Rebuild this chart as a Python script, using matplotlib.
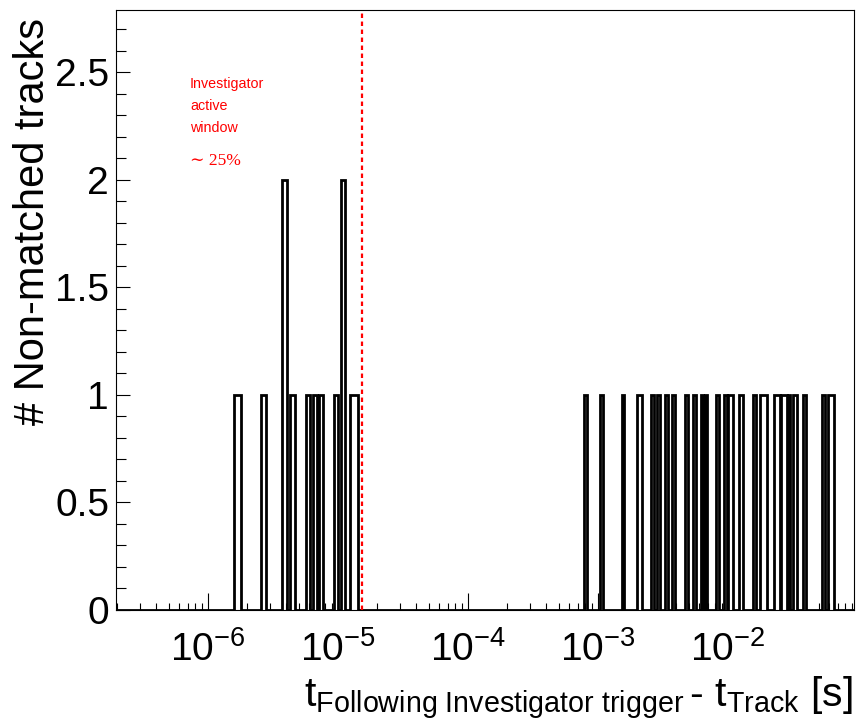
import numpy as np
import matplotlib
matplotlib.use("Agg")
import matplotlib.pyplot as plt
from matplotlib.ticker import LogLocator, MultipleLocator, NullFormatter, LogFormatterSciNotation

plt.rcParams["font.family"] = ["Liberation Sans", "DejaVu Sans"]
plt.rcParams["mathtext.fontset"] = "custom"
plt.rcParams["mathtext.rm"] = "Liberation Sans"
plt.rcParams["mathtext.it"] = "Liberation Sans:italic"
plt.rcParams["mathtext.bf"] = "Liberation Sans:bold"

# Non-empty bins: lower edge, upper edge [s] and entries
bin_lo = [1.592e-6, 2.56e-6, 3.71e-6, 4.30e-6, 5.68e-6, 6.42e-6, 7.18e-6, 9.31e-6,
          1.054e-5, 1.236e-5,
          7.80e-4, 1.035e-3, 1.52e-3, 2.00e-3, 2.56e-3, 2.84e-3, 3.28e-3, 3.69e-3,
          4.67e-3, 5.35e-3, 6.17e-3, 6.62e-3, 8.04e-3, 9.31e-3, 1.005e-2, 1.222e-2,
          1.548e-2, 1.762e-2, 2.26e-2, 2.54e-2, 2.90e-2, 3.13e-2, 3.75e-2, 5.28e-2,
          5.91e-2]
bin_hi = [1.795e-6, 2.81e-6, 4.06e-6, 4.67e-6, 6.09e-6, 6.93e-6, 7.71e-6, 9.95e-6,
          1.122e-5, 1.412e-5,
          8.18e-4, 1.086e-3, 1.585e-3, 2.19e-3, 2.70e-3, 3.00e-3, 3.45e-3, 3.89e-3,
          4.92e-3, 5.67e-3, 6.46e-3, 6.93e-3, 8.48e-3, 9.77e-3, 1.086e-2, 1.304e-2,
          1.641e-2, 1.985e-2, 2.51e-2, 2.83e-2, 3.00e-2, 3.38e-2, 3.96e-2, 5.57e-2,
          6.54e-2]
entries = [1, 1, 2, 1, 1, 1, 1, 1,
           2, 1,
           1, 1, 1, 1, 1, 1, 1, 1,
           1, 1, 1, 1, 1, 1, 1, 1,
           1, 1, 1, 1, 1, 1, 1, 1,
           1]

x_range = (1.96e-7, 0.093)
y_range = (0.0, 2.79)
window_edge = 1.53e-5

# Build a full set of edges with empty bins between the filled ones
edges = [x_range[0]]
counts = []
for lo, hi, n in zip(bin_lo, bin_hi, entries):
    if lo > edges[-1]:
        counts.append(0)
        edges.append(lo)
    counts.append(n)
    edges.append(hi)
counts.append(0)
edges.append(x_range[1])

fig = plt.figure(figsize=(8.57, 7.22), dpi=100)
ax = fig.add_axes([116 / 857, 1 - 610 / 722, 738 / 857, 600 / 722])

ax.stairs(counts, edges, baseline=0, color="black", linewidth=2.0, fill=False)
ax.axvline(window_edge, color="red", linestyle=(0, (2.0, 1.6)), linewidth=1.6)

ax.set_xscale("log")
ax.set_xlim(*x_range)
ax.set_ylim(*y_range)

ax.xaxis.set_major_locator(LogLocator(base=10, numticks=20))
ax.xaxis.set_major_formatter(LogFormatterSciNotation())
ax.xaxis.set_minor_locator(LogLocator(base=10, subs=np.arange(2, 10), numticks=100))
ax.xaxis.set_minor_formatter(NullFormatter())
ax.yaxis.set_major_locator(MultipleLocator(0.5))
ax.yaxis.set_minor_locator(MultipleLocator(0.1))
ax.yaxis.set_major_formatter(plt.FuncFormatter(lambda v, p: f"{v:g}"))

ax.tick_params(axis="both", which="both", direction="in", width=0.8, colors="black")
ax.tick_params(axis="x", which="major", length=12, pad=15, labelsize=28)
ax.tick_params(axis="x", which="minor", length=5)
ax.tick_params(axis="y", which="major", length=10, pad=5, labelsize=28)
ax.tick_params(axis="y", which="minor", length=7)
ax.tick_params(top=False, right=False, which="both")

for s in ax.spines.values():
    s.set_linewidth(0.8)

ax.set_ylabel("# Non-matched tracks", fontsize=30, ha="right")
ax.yaxis.set_label_coords(-0.085, 0.987)
ax.set_xlabel(r"$\mathrm{t_{Following\ Investigator\ trigger}}\,$- $\mathrm{t_{Track}}$ [s]",
              fontsize=29.5, ha="right")
ax.xaxis.set_label_coords(0.9985, -0.108)

red_text = dict(transform=ax.transAxes, color="red", fontsize=10.3)
ax.text(0.1003, 0.87, "Investigator", **red_text)
ax.text(0.1003, 0.833, "active", **red_text)
ax.text(0.1003, 0.797, "window", **red_text)
ax.text(0.1003, 0.742, "∼ 25%", transform=ax.transAxes, color="red", fontsize=12.5,
        family=["Liberation Serif", "DejaVu Serif"])

fig.savefig("out.png", dpi=100)
